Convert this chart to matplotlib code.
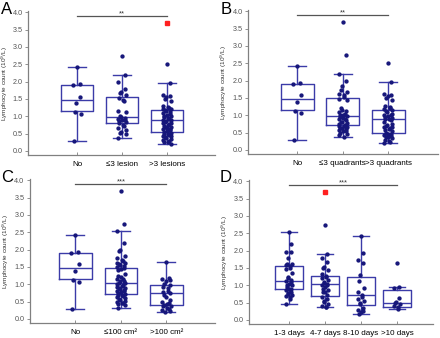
import numpy as np
import matplotlib
matplotlib.use("Agg")
import matplotlib.pyplot as plt

plt.rcParams['font.family'] = ['Liberation Sans', 'DejaVu Sans']

# ---- data ----
no_pts = [2.42, 1.92, 1.90, 1.57, 1.38, 1.12, 1.06, 0.30]

# Panel A: number of lesions
A_labels = ['No', '≤3 lesion', '>3 lesions']
A_le3 = [2.73, 2.19, 2.00, 1.78, 1.70, 1.66, 1.62, 1.52, 1.48, 1.45, 1.15, 1.13, 1.00,
         0.97, 0.95, 0.93, 0.90, 0.88, 0.85, 0.83, 0.80, 0.76, 0.72, 0.66, 0.60, 0.55,
         0.52, 0.48, 0.37]
A_gt3 = [2.52, 1.97, 1.62, 1.58, 1.55, 1.50, 1.45, 1.30, 1.27, 1.25, 1.22, 1.20, 1.18,
         1.15, 1.12, 1.10, 1.08, 1.05, 1.02, 1.00, 0.98, 0.95, 0.92, 0.90, 0.88, 0.86,
         0.84, 0.82, 0.80, 0.78, 0.75, 0.72, 0.70, 0.68, 0.66, 0.64, 0.62, 0.60, 0.58,
         0.55, 0.52, 0.50, 0.48, 0.46, 0.44, 0.42, 0.40, 0.38, 0.35, 0.32, 0.30, 0.27,
         0.25, 0.20]
A_q1 = [1.14, 0.82, 0.55]
A_med = [1.47, 0.99, 0.88]
A_q3 = [1.91, 1.56, 1.18]
A_lo = [0.30, 0.37, 0.20]
A_hi = [2.42, 2.19, 1.97]
A_red = {3: [3.70]}

# Panel B: number of quadrants
B_labels = ['No', '≤3 quadrants', '>3 quadrants']
B_le3 = [3.70, 2.73, 2.18, 1.98, 1.85, 1.72, 1.66, 1.62, 1.58, 1.52, 1.48, 1.45, 1.20,
         1.15, 1.12, 1.08, 1.05, 1.02, 1.00, 0.98, 0.95, 0.92, 0.90, 0.88, 0.85, 0.82,
         0.80, 0.78, 0.75, 0.72, 0.70, 0.68, 0.66, 0.64, 0.62, 0.60, 0.58, 0.56, 0.54,
         0.50, 0.47, 0.43, 0.37]
B_gt3 = [2.52, 1.97, 1.62, 1.58, 1.55, 1.50, 1.45, 1.28, 1.25, 1.22, 1.18, 1.15, 1.12,
         1.10, 1.05, 1.02, 1.00, 0.97, 0.95, 0.92, 0.90, 0.88, 0.85, 0.80, 0.75, 0.72,
         0.70, 0.67, 0.65, 0.62, 0.60, 0.58, 0.55, 0.50, 0.47, 0.45, 0.42, 0.40, 0.38,
         0.36, 0.34, 0.30, 0.27, 0.24, 0.20]
B_q1 = [1.14, 0.72, 0.50]
B_med = [1.47, 0.99, 0.88]
B_q3 = [1.91, 1.50, 1.16]
B_lo = [0.30, 0.37, 0.20]
B_hi = [2.42, 2.18, 1.97]
B_red = {}

# Panel C: lesion area
C_labels = ['No', '≤100 cm²', '>100 cm²']
C_le100 = [3.70, 2.73, 2.53, 2.20, 1.98, 1.95, 1.82, 1.75, 1.70, 1.66, 1.62, 1.60, 1.57,
           1.55, 1.52, 1.50, 1.48, 1.45, 1.40, 1.30, 1.25, 1.20, 1.16, 1.14, 1.10, 1.08,
           1.05, 1.03, 1.00, 0.98, 0.95, 0.93, 0.90, 0.88, 0.86, 0.84, 0.82, 0.80, 0.78,
           0.75, 0.72, 0.70, 0.68, 0.65, 0.62, 0.60, 0.57, 0.55, 0.52, 0.50, 0.47, 0.45,
           0.42, 0.40, 0.33]
C_gt100 = [1.65, 1.18, 1.15, 1.12, 1.08, 1.02, 0.98, 0.92, 0.88, 0.82, 0.78, 0.74, 0.70,
           0.62, 0.55, 0.50, 0.45, 0.42, 0.40, 0.38, 0.37, 0.33, 0.30, 0.27, 0.24, 0.20]
C_q1 = [1.14, 0.72, 0.40]
C_med = [1.47, 1.05, 0.74]
C_q3 = [1.91, 1.48, 0.98]
C_lo = [0.30, 0.33, 0.20]
C_hi = [2.42, 2.53, 1.65]
C_red = {}

# Panel D: time since onset
D_labels = ['1-3 days', '4-7 days', '8-10 days', '>10 days']
D_1_3 = [2.53, 2.18, 1.97, 1.95, 1.80, 1.62, 1.60, 1.58, 1.55, 1.50, 1.48, 1.35, 1.25,
         1.20, 1.15, 1.12, 1.10, 1.05, 1.02, 1.00, 0.95, 0.90, 0.88, 0.85, 0.82, 0.78,
         0.75, 0.72, 0.68, 0.65, 0.60, 0.47]
D_4_7 = [2.73, 1.90, 1.78, 1.68, 1.52, 1.50, 1.45, 1.32, 1.28, 1.25, 1.20, 1.15, 1.10,
         1.07, 1.05, 1.02, 1.00, 0.95, 0.90, 0.85, 0.82, 0.80, 0.72, 0.65, 0.60, 0.56,
         0.52, 0.45, 0.40, 0.38, 0.37]
D_8_10 = [2.43, 1.92, 1.72, 1.65, 1.30, 1.12, 0.92, 0.82, 0.72, 0.65, 0.60, 0.55, 0.48,
          0.45, 0.35, 0.30, 0.25, 0.22, 0.18]
D_gt10 = [1.65, 0.95, 0.92, 0.62, 0.52, 0.48, 0.45, 0.40, 0.37, 0.32]
D_q1 = [0.88, 0.70, 0.42, 0.38]
D_med = [1.13, 1.04, 0.72, 0.50]
D_q3 = [1.57, 1.28, 1.25, 0.85]
D_lo = [0.47, 0.37, 0.18, 0.32]
D_hi = [2.53, 1.90, 2.43, 0.95]
D_red = {2: [3.70]}

sig_y = 3.88

BOX_C = '#3b3ba8'
PT_C = '#16167a'
AX_C = '#808080'
W, H = 440, 338

panels = [
    ('A', A_labels, [no_pts, A_le3, A_gt3], A_q1, A_med, A_q3, A_lo, A_hi, A_red, '**',
     [0.064, 0.541, 0.425, 0.426], (-0.09, 4.07), (1, 2), 10),
    ('B', B_labels, [no_pts, B_le3, B_gt3], B_q1, B_med, B_q3, B_lo, B_hi, B_red, '**',
     [0.564, 0.544, 0.432, 0.426], (-0.08, 4.10), (221, 2), 229),
    ('C', C_labels, [no_pts, C_le100, C_gt100], C_q1, C_med, C_q3, C_lo, C_hi, C_red, '***',
     [0.068, 0.044, 0.421, 0.426], (0.0, 4.07), (1, 170), 11),
    ('D', D_labels, [D_1_3, D_4_7, D_8_10, D_gt10], D_q1, D_med, D_q3, D_lo, D_hi, D_red, '***',
     [0.566, 0.041, 0.418, 0.426], (-0.11, 5.0), (220, 170), 230),
]

fig = plt.figure(figsize=(4.4, 3.38), dpi=100)

for (letter, labels, groups, q1, med, q3, lo, hi, red, stars, rect, xlim, lpos, ylx) in panels:
    ax = fig.add_axes(rect)
    n = len(labels)
    pos = np.arange(1, n + 1)
    stats = [dict(q1=q1[i], med=med[i], q3=q3[i], whislo=lo[i], whishi=hi[i], fliers=[])
             for i in range(n)]
    bw = 0.72 if n == 3 else 0.8
    ax.bxp(stats, positions=pos, widths=bw, showfliers=False, manage_ticks=False,
           boxprops=dict(color=BOX_C, lw=1.0),
           medianprops=dict(color=BOX_C, lw=1.0),
           whiskerprops=dict(color=BOX_C, lw=1.0),
           capprops=dict(color=BOX_C, lw=1.0), capwidths=bw * 0.55)
    for i, g in enumerate(groups):
        g = np.asarray(g)
        k = np.arange(len(g))
        jit = 0.09 * np.sin(k * 2.399) * (1 if n == 3 else 0.9)
        ax.plot(pos[i] + jit, g, 'o', ms=2.1, color=PT_C, mec=PT_C, zorder=3)
    for p, vals in red.items():
        ax.plot([p] * len(vals), vals, 's', ms=2.3, color='#ff2020', mec='#ff2020', zorder=3)

    # significance bar
    ax.plot([pos[0], pos[-1]], [sig_y, sig_y], color='#555555', lw=0.9)
    ax.text((pos[0] + pos[-1]) / 2, sig_y - 0.02, stars, ha='center', va='bottom',
            fontsize=5.5, color='#333333')

    ax.set_xlim(*xlim)
    ax.set_ylim(-0.12, 4.03)
    ax.set_yticks(np.arange(0, 4.01, 0.5))
    ax.set_yticklabels([f'{v:.1f}' for v in np.arange(0, 4.01, 0.5)])
    ax.set_xticks(pos)
    ax.set_xticklabels(labels)
    ax.tick_params(axis='y', labelsize=5.2, colors=AX_C, labelcolor='#555555',
                   length=2.5, width=0.6, pad=1.5)
    ax.tick_params(axis='x', labelsize=5.8, colors=AX_C, labelcolor='black',
                   direction='in', length=2.5, width=0.6, pad=4)
    for s in ['top', 'right']:
        ax.spines[s].set_visible(False)
    for s in ['left', 'bottom']:
        ax.spines[s].set_color(AX_C)
        ax.spines[s].set_linewidth(0.9)
    ax.spines['left'].set_bounds(-0.12, 4.03)
    ax.set_ylabel('Lymphocyte count (10$^9$/L)', fontsize=4.6, color='#333333')
    ax.yaxis.set_label_coords((ylx - rect[0] * W) / (rect[2] * W), 0.5)
    fig.text(lpos[0] / W, 1 - lpos[1] / H, letter, fontsize=12, ha='left', va='top')

fig.savefig('out.png', dpi=100)
